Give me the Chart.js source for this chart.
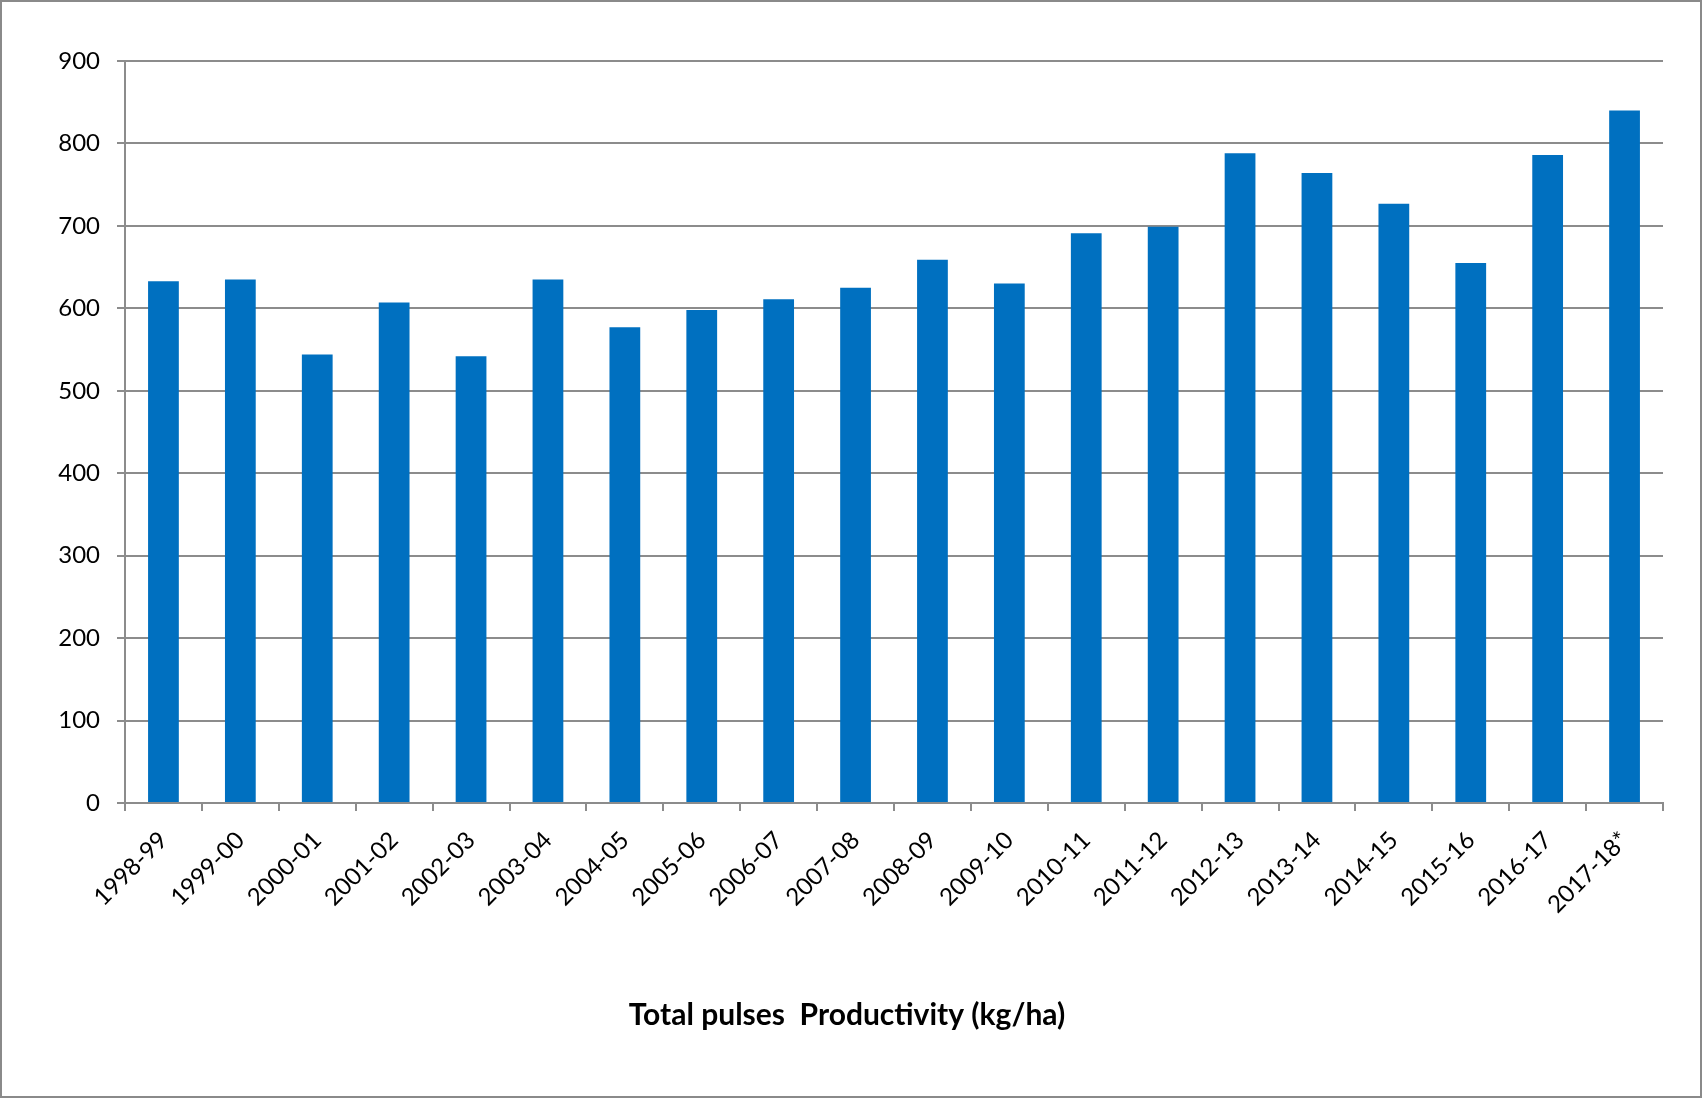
<!DOCTYPE html>
<html>
<head>
<meta charset="utf-8">
<script src="https://cdn.jsdelivr.net/npm/chart.js@4/dist/chart.umd.min.js"></script>
<style>
  html, body { margin: 0; padding: 0; background: #fff; }
  #wrap { position: relative; width: 1702px; height: 1098px; }
  #frame { position: absolute; left: 0; top: 0; width: 1702px; height: 1098px;
           box-sizing: border-box; border: 2px solid #8a8a8a; pointer-events: none; }
</style>
</head>
<body>
<div id="wrap">
  <canvas id="chart" width="1702" height="1098"></canvas>
  <div id="frame"></div>
</div>
<script>
// === data ===
const seasons = ['1998-99', '1999-00', '2000-01', '2001-02', '2002-03', '2003-04', '2004-05',
  '2005-06', '2006-07', '2007-08', '2008-09', '2009-10', '2010-11', '2011-12', '2012-13',
  '2013-14', '2014-15', '2015-16', '2016-17', '2017-18*'];
const productivity = [633, 635, 544, 607, 542, 635, 577, 598, 611, 625,
  659, 630, 691, 699, 788, 764, 727, 655, 786, 840];
const yMin = 0, yMax = 900, yStep = 100;
const chartTitle = 'Total pulses  Productivity (kg/ha)';

// === style ===
const barBlue = '#0070C0';
const axisGrey = '#8c8c8c';
const fontFace = 'Lato, "Open Sans", sans-serif';

const ctx = document.getElementById('chart').getContext('2d');
new Chart(ctx, {
  type: 'bar',
  data: {
    labels: seasons,
    datasets: [{
      label: 'Productivity',
      data: productivity,
      backgroundColor: barBlue,
      borderWidth: 0,
      categoryPercentage: 1,
      barPercentage: 0.4
    }]
  },
  options: {
    responsive: false,
    animation: false,
    layout: { padding: { top: 61, right: 39, left: 31, bottom: 65 } },
    plugins: {
      legend: { display: false },
      tooltip: { enabled: false },
      title: {
        display: true,
        position: 'bottom',
        text: chartTitle,
        color: '#000',
        font: { family: fontFace, size: 30, weight: 'bold', lineHeight: 1.2 },
        padding: 0
      }
    },
    scales: {
      x: {
        grid: { offset: true, drawOnChartArea: false, drawTicks: true, tickLength: 8,
                color: axisGrey, lineWidth: 2 },
        border: { display: true, color: axisGrey, width: 2 },
        ticks: { color: '#000', font: { family: fontFace, size: 24 },
                 maxRotation: 45, minRotation: 45, padding: 15, autoSkip: false },
        afterFit(scale) { scale.height = 194; }
      },
      y: {
        min: yMin,
        max: yMax,
        grid: { color: axisGrey, lineWidth: 2, tickLength: 8 },
        border: { display: true, color: axisGrey, width: 2 },
        ticks: { stepSize: yStep, color: '#000', font: { family: fontFace, size: 24 }, padding: 17 },
        afterFit(scale) { scale.width = 94; }
      }
    }
  }
});
</script>
</body>
</html>
